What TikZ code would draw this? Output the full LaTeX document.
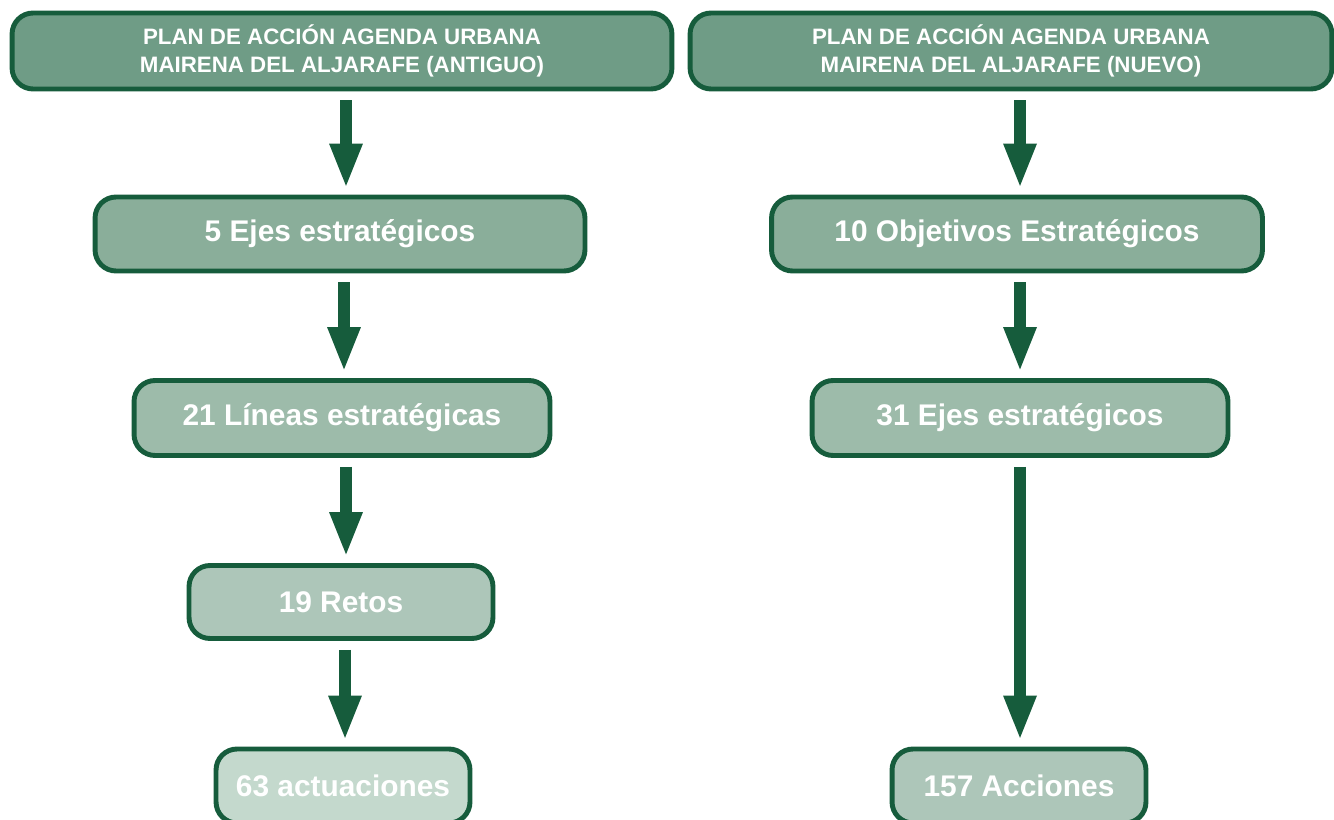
\documentclass[tikz,border=0pt]{standalone}
\usepackage{fontspec}
\setmainfont{Liberation Sans}
\usetikzlibrary{arrows.meta}

\definecolor{borde}{HTML}{165C3C}
\definecolor{nivel1}{HTML}{6F9C86}
\definecolor{nivel2}{HTML}{8AAE9A}
\definecolor{nivel3}{HTML}{9DBBAA}
\definecolor{nivel4}{HTML}{ADC6B9}
\definecolor{nivel5}{HTML}{C4D9CD}

\tikzset{
    caja/.style={draw=borde, line width=2.8pt, rounded corners=0.42cm, text=white,
        font=\fontsize{17}{20}\selectfont\bfseries, align=center, inner sep=0pt},
    titulo/.style={caja, fill=nivel1, minimum height=1.52cm,
        font=\fontsize{12.7}{15.9}\selectfont\bfseries},
    flecha/.style={draw=borde, line width=6.8pt,
        -{Triangle[width=0.6cm, length=0.9cm]}, shorten <=0.18cm, shorten >=0.12cm}
}

\begin{document}
\begin{tikzpicture}[x=0.02cm, y=-0.02cm]
            \useasboundingbox (0,0) rectangle (1334,820);

            % Columna izquierda
            \node[titulo, minimum width=13.2cm] (planA) at (342,51)
                {PLAN DE ACCIÓN AGENDA URBANA\\MAIRENA DEL ALJARAFE (ANTIGUO)};
            \node[caja, fill=nivel2, minimum width=9.8cm, minimum height=1.48cm] (ejesA) at (340,234) {5 Ejes estratégicos};
            \node[caja, fill=nivel3, minimum width=8.32cm, minimum height=1.5cm] (lineas) at (342,418) {21 Líneas estratégicas};
            \node[caja, fill=nivel4, minimum width=6.08cm, minimum height=1.46cm] (retos) at (341,602) {19 Retos};
            \node[caja, fill=nivel5, minimum width=5.08cm, minimum height=1.48cm] (actuaciones) at (343,786) {63 actuaciones};

            % Columna derecha
            \node[titulo, minimum width=12.84cm] (planB) at (1011,51)
                {PLAN DE ACCIÓN AGENDA URBANA\\MAIRENA DEL ALJARAFE (NUEVO)};
            \node[caja, fill=nivel2, minimum width=9.82cm, minimum height=1.48cm] (objetivos) at (1017,234) {10 Objetivos Estratégicos};
            \node[caja, fill=nivel3, minimum width=8.32cm, minimum height=1.5cm] (ejesB) at (1020,418) {31 Ejes estratégicos};
            \node[caja, fill=nivel4, minimum width=5.08cm, minimum height=1.48cm] (acciones) at (1019,786) {157 Acciones};

            % Flechas
            \foreach \a/\b in {planA/ejesA, ejesA/lineas, lineas/retos, retos/actuaciones} {
                \draw[flecha] ([xshift=0.08cm]\a.south) -- ([xshift=0.08cm]\a.south |- \b.north);
            }
            \foreach \a/\b in {planB/objetivos, objetivos/ejesB, ejesB/acciones} {
                \draw[flecha] (\a.south -| ejesB.south) -- (ejesB.south |- \b.north);
            }
        \end{tikzpicture}
\end{document}
